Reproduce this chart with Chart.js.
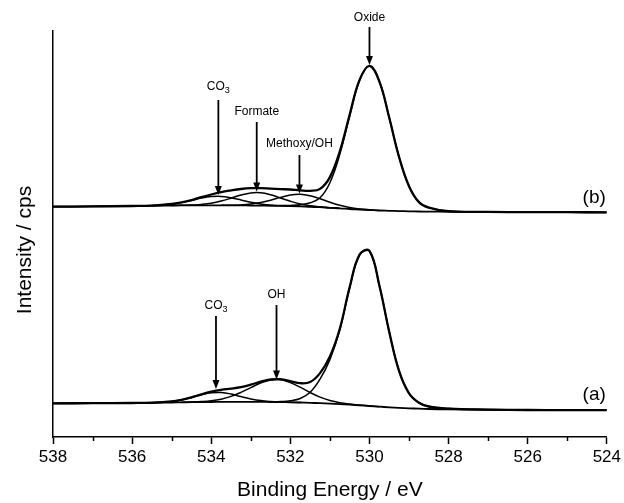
<!DOCTYPE html>
<html>
<head>
<meta charset="utf-8">
<script src="https://cdn.jsdelivr.net/npm/chart.js@4.4.1/dist/chart.umd.min.js"></script>
<style>
  html, body { margin: 0; padding: 0; background: #fff; }
</style>
</head>
<body>
<canvas id="xpsChart" width="624" height="503"></canvas>
<script>
// binding energy grid (eV)
const energies = [538, 537, 536, 535.5, 535, 534.75, 534.5, 534.25, 534, 533.75, 533.5, 533.25, 533, 532.75, 532.5, 532.25, 532, 531.75, 531.5, 531.25, 531, 530.75, 530.5, 530.25, 530, 529.75, 529.5, 529.25, 529, 528.75, 528.5, 528, 527, 526, 525, 524];

// spectrum (b)
const envelopeB = [230.3, 230.6, 231.0, 231.4, 233.0, 234.6, 236.9, 239.8, 242.5, 244.9, 246.6, 248.0, 248.8, 248.9, 248.4, 247.9, 247.5, 246.6, 246.2, 248.1, 259.9, 285.6, 322.4, 357.1, 371.2, 355.7, 319.2, 279.8, 250.8, 234.9, 229.4, 225.8, 225.1, 224.9, 224.8, 224.7];
const backgroundB = [230.3, 230.6, 231.0, 231.2, 231.5, 231.6, 231.6, 231.7, 231.7, 231.7, 231.6, 231.6, 231.5, 231.4, 231.2, 231.1, 231.0, 230.7, 230.2, 229.8, 229.2, 228.7, 228.0, 227.5, 227.0, 226.5, 226.2, 225.9, 225.7, 225.5, 225.4, 225.2, 225.0, 224.9, 224.8, 224.7];
const carbonateB = [null, null, 231.0, 231.4, 232.9, 234.5, 236.6, 238.9, 240.4, 240.6, 239.2, 237.1, 234.8, 233.1, 231.9, 231.4, 231.1, 230.7, null, null, null, null, null, null, null, null, null, null, null, null, null, null, null, null, null, null];
const formateB = [null, null, null, null, 231.5, 231.7, 231.9, 232.6, 233.8, 235.9, 238.8, 242.0, 244.1, 244.2, 242.2, 239.0, 235.8, 233.1, 231.2, 230.2, 229.3, 228.7, null, null, null, null, null, null, null, null, null, null, null, null, null, null];
const methoxyB = [null, null, null, null, null, null, null, null, null, 231.7, 231.8, 232.1, 232.9, 234.4, 236.7, 239.6, 242.0, 242.7, 241.2, 238.3, 234.7, 231.7, 229.4, 228.0, 227.2, 226.5, null, null, null, null, null, null, null, null, null, null];
const oxideB = [null, null, null, null, null, null, null, null, null, null, null, null, null, null, null, 231.3, 231.6, 232.2, 234.2, 239.2, 254.3, 282.6, 321.0, 356.6, 371.0, 355.6, 319.2, 279.8, 250.8, 234.9, 229.4, 225.8, 225.1, 224.9, null, null];

// spectrum (a)
const envelopeA = [33.7, 33.8, 34.0, 34.3, 35.6, 37.2, 39.7, 42.7, 45.3, 47.2, 48.3, 49.8, 52.3, 55.3, 57.5, 57.8, 55.9, 53.8, 55.0, 63.9, 80.5, 108.3, 149.9, 182.4, 186.1, 151.6, 105.1, 65.8, 43.7, 34.3, 30.5, 28.4, 27.4, 27.0, 26.9, 26.8];
const backgroundA = [33.7, 33.8, 34.0, 34.2, 34.5, 34.7, 34.8, 34.9, 35.0, 35.1, 35.2, 35.2, 35.2, 35.1, 35.0, 34.9, 34.7, 34.5, 34.2, 33.8, 33.4, 32.9, 32.3, 31.7, 31.0, 30.3, 29.7, 29.2, 28.7, 28.3, 28.0, 27.6, 27.2, 27.0, 26.9, 26.8];
const carbonateA = [null, null, 34.0, 34.3, 35.6, 37.2, 39.5, 42.2, 44.2, 44.5, 43.0, 40.4, 38.1, 36.4, 35.5, 35.0, 34.7, 34.5, null, null, null, null, null, null, null, null, null, null, null, null, null, null, null, null, null, null];
const hydroxylA = [null, null, null, null, null, 34.8, 35.0, 35.4, 36.2, 37.8, 40.6, 44.6, 49.4, 54.0, 57.0, 57.2, 54.4, 49.8, 44.5, 39.9, 36.5, 34.3, 32.9, 31.9, 31.1, 30.3, null, null, null, null, null, null, null, null, null, null];
const oxideA = [null, null, null, null, null, null, null, null, null, null, null, null, null, null, 35.1, 35.4, 36.2, 38.5, 44.7, 57.8, 77.4, 106.9, 149.3, 182.2, 186.0, 151.6, 105.1, 65.8, 43.7, 34.3, 30.5, 28.4, 27.4, 27.0, null, null];

// peak assignments: energy, label, subscript
const peakEnergies = [533.82, 532.85, 531.77, 530.0, 533.88, 532.35];
const peakLabels = ['CO', 'Formate', 'Methoxy/OH', 'Oxide', 'CO', 'OH'];
const peakSubs = ['3', '', '', '', '3', ''];
const minorTicks = [537, 535, 533, 531, 529, 527, 525];

const FONT = "'Liberation Sans', Arial, Helvetica, sans-serif";

// arrow geometry in axis units (top of shaft, tip, label centre)
const arrowGeom = [
  { top: 337, tip: 242, label: 350 },
  { top: 315, tip: 245.5, label: 325 },
  { top: 282, tip: 243.5, label: 293 },
  { top: 410, tip: 372, label: 419.5 },
  { top: 121, tip: 48, label: 131 },
  { top: 132, tip: 57.5, label: 142 }
];

const annotations = {
  id: 'annotations',
  afterDraw(chart) {
    const { ctx, scales: { x, y } } = chart;
    ctx.save();
    ctx.strokeStyle = '#000';
    ctx.fillStyle = '#000';

    // minor ticks
    ctx.lineWidth = 1.5;
    const base = y.getPixelForValue(0);
    minorTicks.forEach(v => {
      const px = Math.round(x.getPixelForValue(v)) + 0.5;
      ctx.beginPath();
      ctx.moveTo(px, base);
      ctx.lineTo(px, base + 4);
      ctx.stroke();
    });

    // arrows + labels
    peakEnergies.forEach((e, i) => {
      const g = arrowGeom[i];
      const px = x.getPixelForValue(e);
      const pTop = y.getPixelForValue(g.top);
      const pTip = y.getPixelForValue(g.tip);
      ctx.lineWidth = 1.8;
      ctx.beginPath();
      ctx.moveTo(px, pTop);
      ctx.lineTo(px, pTip - 7);
      ctx.stroke();
      ctx.beginPath();
      ctx.moveTo(px - 3.5, pTip - 9);
      ctx.lineTo(px + 3.5, pTip - 9);
      ctx.lineTo(px, pTip);
      ctx.closePath();
      ctx.fill();

      const ly = y.getPixelForValue(g.label);
      ctx.textBaseline = 'middle';
      ctx.font = '12px ' + FONT;
      const w1 = ctx.measureText(peakLabels[i]).width;
      ctx.font = '9px ' + FONT;
      const w2 = peakSubs[i] ? ctx.measureText(peakSubs[i]).width : 0;
      const start = px - (w1 + w2) / 2;
      ctx.textAlign = 'left';
      ctx.font = '12px ' + FONT;
      ctx.fillText(peakLabels[i], start, ly);
      if (peakSubs[i]) {
        ctx.font = '9px ' + FONT;
        ctx.fillText(peakSubs[i], start + w1, ly + 4);
      }
    });

    // spectrum labels
    ctx.font = '19px ' + FONT;
    ctx.textAlign = 'right';
    ctx.textBaseline = 'middle';
    ctx.fillText('(b)', x.getPixelForValue(524) - 1, y.getPixelForValue(239.5));
    ctx.fillText('(a)', x.getPixelForValue(524) - 1, y.getPixelForValue(42));

    // axis titles
    ctx.font = '21px ' + FONT;
    ctx.textAlign = 'center';
    ctx.fillText('Binding Energy / eV', (x.left + x.right) / 2, 490);
    ctx.save();
    ctx.translate(25, 250);
    ctx.rotate(-Math.PI / 2);
    ctx.fillText('Intensity / cps', 0, 0);
    ctx.restore();

    ctx.restore();
  }
};

function line(data, width) {
  return {
    data: data,
    borderColor: '#000',
    borderWidth: width,
    pointRadius: 0,
    tension: 0.4,
    spanGaps: false,
    fill: false
  };
}

const ctx = document.getElementById('xpsChart');
new Chart(ctx, {
  type: 'line',
  data: {
    labels: energies,
    datasets: [
      line(backgroundB, 1.8),
      line(carbonateB, 1.5),
      line(formateB, 1.5),
      line(methoxyB, 1.5),
      line(oxideB, 1.5),
      line(envelopeB, 2.3),
      line(backgroundA, 1.8),
      line(carbonateA, 1.5),
      line(hydroxylA, 1.5),
      line(oxideA, 1.5),
      line(envelopeA, 2.3)
    ]
  },
  options: {
    responsive: false,
    animation: false,
    layout: { padding: { top: 31, right: 15, left: 0, bottom: 0 } },
    plugins: { legend: { display: false }, tooltip: { enabled: false } },
    scales: {
      x: {
        type: 'linear',
        reverse: true,
        min: 524,
        max: 538,
        ticks: { stepSize: 2, color: '#000', font: { family: FONT, size: 17 }, padding: 3, maxRotation: 0, autoSkip: false },
        grid: { drawOnChartArea: false, drawTicks: true, tickLength: 7, tickColor: '#000', tickWidth: 1.5 },
        border: { color: '#000', width: 1.5 },
        afterFit: s => { s.height = 66; }
      },
      y: {
        min: 0,
        max: 406,
        ticks: { display: false },
        grid: { display: false },
        border: { color: '#000', width: 1.5 },
        afterFit: s => { s.width = 53; }
      }
    }
  },
  plugins: [annotations]
});
</script>
</body>
</html>
